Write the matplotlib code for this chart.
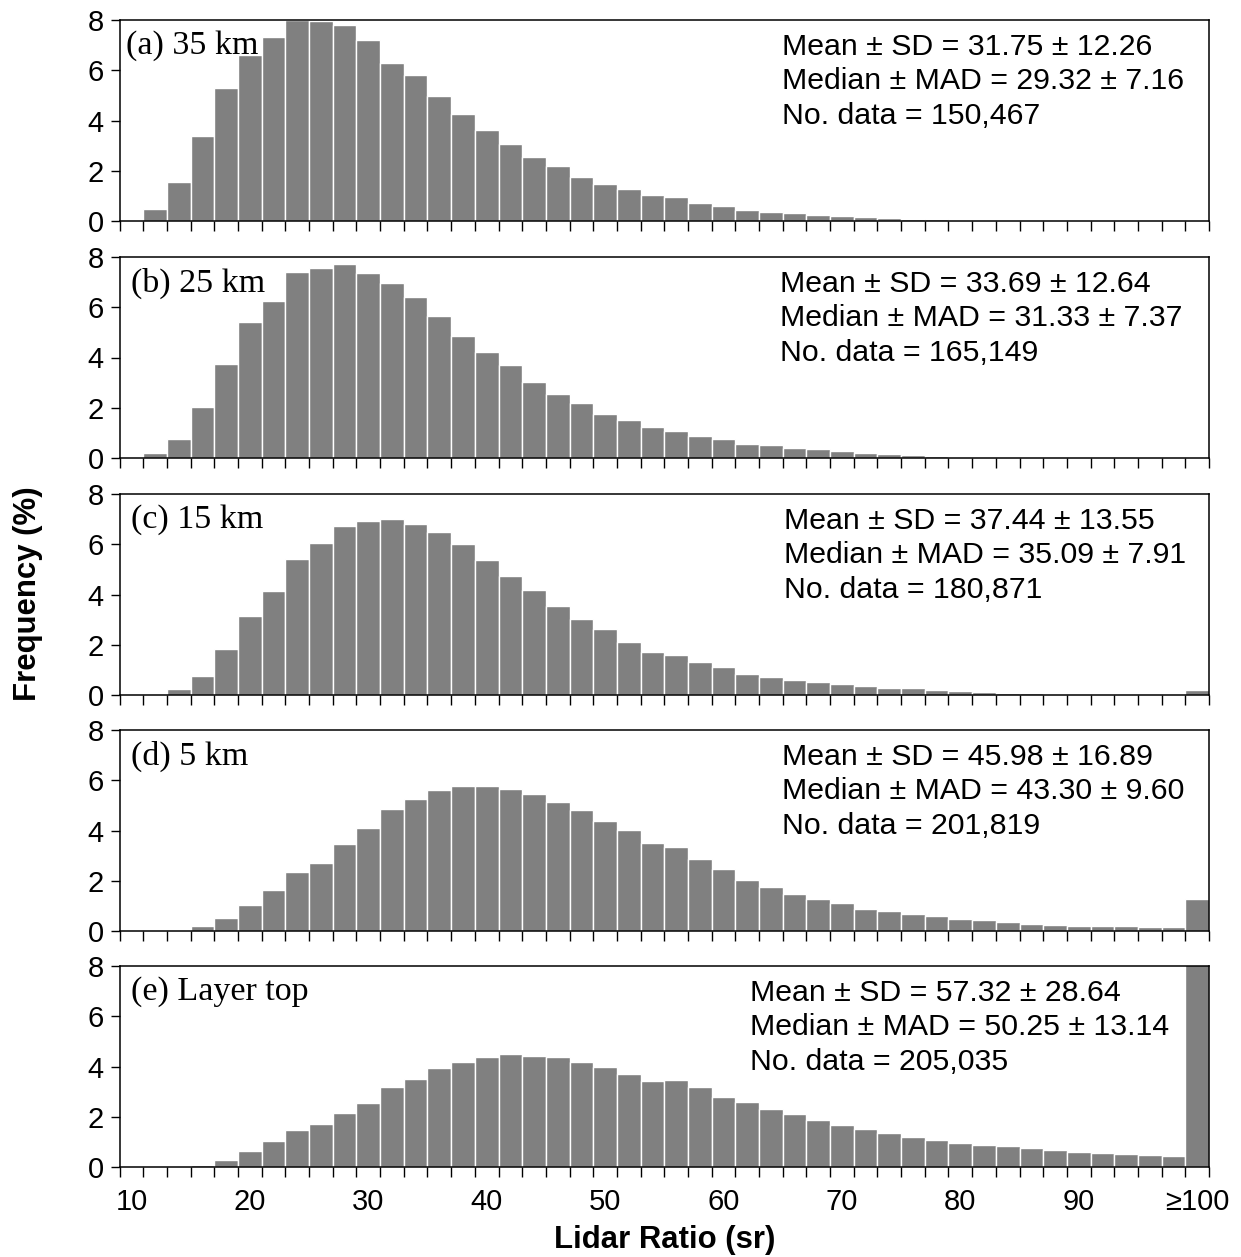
"""Lidar ratio frequency histograms at several altitudes."""

import numpy as np
import matplotlib
matplotlib.use("Agg")
import matplotlib.pyplot as plt

# bin labels: 10, 12, ..., 98 and the open-ended >=100 bin
bin_starts = list(range(10, 100, 2)) + [100]
label_values = [10, 20, 30, 40, 50, 60, 70, 80, 90]
label_texts = ["10", "20", "30", "40", "50", "60", "70", "80", "90", "\u2265100"]

freq_35km = [0.05, 0.48, 1.55, 3.40, 5.30, 6.60, 7.32, 8.00, 7.95, 7.80,
             7.20, 6.30, 5.83, 4.97, 4.27, 3.64, 3.05, 2.55, 2.19, 1.76,
             1.48, 1.29, 1.03, 0.95, 0.73, 0.60, 0.45, 0.37, 0.31, 0.25,
             0.20, 0.15, 0.11, 0.08, 0.06, 0.04, 0.02, 0.01, 0.0, 0.0,
             0.0, 0.0, 0.0, 0.0, 0.0, 0.0]
freq_25km = [0.0, 0.19, 0.76, 2.03, 3.76, 5.41, 6.23, 7.42, 7.56, 7.73,
             7.38, 6.95, 6.42, 5.66, 4.85, 4.21, 3.71, 3.04, 2.55, 2.18,
             1.75, 1.50, 1.24, 1.08, 0.86, 0.76, 0.56, 0.50, 0.41, 0.35,
             0.29, 0.20, 0.16, 0.12, 0.08, 0.05, 0.03, 0.02, 0.01, 0.01,
             0.01, 0.01, 0.01, 0.01, 0.01, 0.05]
freq_15km = [0.0, 0.0, 0.22, 0.75, 1.83, 3.13, 4.13, 5.42, 6.03, 6.74,
             6.94, 6.99, 6.81, 6.49, 6.01, 5.39, 4.73, 4.19, 3.56, 3.01,
             2.61, 2.12, 1.71, 1.59, 1.30, 1.11, 0.83, 0.72, 0.60, 0.52,
             0.42, 0.37, 0.26, 0.26, 0.20, 0.16, 0.12, 0.09, 0.08, 0.04,
             0.03, 0.02, 0.01, 0.01, 0.01, 0.19]
freq_5km = [0.0, 0.0, 0.0, 0.20, 0.53, 1.03, 1.62, 2.33, 2.71, 3.46,
            4.10, 4.85, 5.25, 5.60, 5.77, 5.78, 5.66, 5.44, 5.13, 4.83,
            4.36, 4.01, 3.49, 3.34, 2.88, 2.45, 2.03, 1.74, 1.49, 1.27,
            1.11, 0.89, 0.78, 0.66, 0.58, 0.46, 0.44, 0.36, 0.29, 0.25,
            0.21, 0.20, 0.19, 0.15, 0.15, 1.29]
freq_top = [0.01, 0.01, 0.0, 0.08, 0.28, 0.65, 1.02, 1.47, 1.73, 2.14,
            2.55, 3.17, 3.49, 3.96, 4.16, 4.36, 4.50, 4.40, 4.37, 4.16,
            3.97, 3.69, 3.41, 3.45, 3.17, 2.80, 2.59, 2.32, 2.10, 1.87,
            1.67, 1.53, 1.35, 1.20, 1.06, 0.97, 0.86, 0.85, 0.74, 0.69,
            0.58, 0.54, 0.52, 0.48, 0.42, 9.50]

panel_titles = ["(a) 35 km", "(b) 25 km", "(c) 15 km", "(d) 5 km", "(e) Layer top"]
stats_lines = [
    ["Mean \u00b1 SD = 31.75 \u00b1 12.26", "Median \u00b1 MAD = 29.32 \u00b1 7.16", "No. data = 150,467"],
    ["Mean \u00b1 SD = 33.69 \u00b1 12.64", "Median \u00b1 MAD = 31.33 \u00b1 7.37", "No. data = 165,149"],
    ["Mean \u00b1 SD = 37.44 \u00b1 13.55", "Median \u00b1 MAD = 35.09 \u00b1 7.91", "No. data = 180,871"],
    ["Mean \u00b1 SD = 45.98 \u00b1 16.89", "Median \u00b1 MAD = 43.30 \u00b1 9.60", "No. data = 201,819"],
    ["Mean \u00b1 SD = 57.32 \u00b1 28.64", "Median \u00b1 MAD = 50.25 \u00b1 13.14", "No. data = 205,035"],
]
panel_data = [freq_35km, freq_25km, freq_15km, freq_5km, freq_top]

# layout in pixels (figure is 1241 x 1257 at dpi 100)
W, H = 1241, 1257
ax_left, ax_right = 119.6, 1209
ax_tops = [20, 257, 494, 730, 966]
ax_height = 201
stats_x = [782, 780, 784, 782, 750]
title_x = [126, 131, 131, 131, 131]

plt.rcParams['font.family'] = ['Liberation Sans', 'DejaVu Sans']

fig = plt.figure(figsize=(W / 100, H / 100), dpi=100)

n_bins = len(bin_starts)
x = np.arange(n_bins)
label_pos = [bin_starts.index(v) for v in label_values] + [n_bins - 1]

for i, (values, title, lines) in enumerate(zip(panel_data, panel_titles, stats_lines)):
    top = ax_tops[i]
    ax = fig.add_axes([ax_left / W, 1 - (top + ax_height) / H,
                       (ax_right - ax_left) / W, ax_height / H])
    ax.bar(x, values, width=1.0, color='#808080', edgecolor='white', linewidth=1.0)
    ax.set_xlim(-0.5, n_bins - 0.5)
    ax.set_ylim(0, 8)
    ax.set_yticks([0, 2, 4, 6, 8])
    ax.tick_params(axis='y', direction='out', length=6.5, width=1, labelsize=21, pad=5)

    # ticks at bin edges, labels at bin centres
    ax.set_xticks(np.arange(-0.5, n_bins, 1.0))
    ax.set_xticklabels([])
    ax.tick_params(axis='x', which='major', direction='out', length=7, width=1)
    if i == len(panel_data) - 1:
        ax.set_xticks(label_pos, minor=True)
        ax.set_xticklabels(label_texts, minor=True)
        ax.tick_params(axis='x', which='minor', length=0, labelsize=21, pad=15)

    for sp in ax.spines.values():
        sp.set_linewidth(1.1)

    ax.text((title_x[i] - ax_left) / (ax_right - ax_left), 1 - 26 / ax_height, title,
            transform=ax.transAxes, family='Liberation Serif', fontsize=24.5,
            ha='left', va='center')
    for j, line in enumerate(lines):
        ax.text((stats_x[i] - ax_left) / (ax_right - ax_left),
                1 - (27 + 34.3 * j) / ax_height, line,
                transform=ax.transAxes, fontsize=21.8, ha='left', va='center')

fig.text(28 / W, 1 - 594 / H, "Frequency (%)", rotation=90, fontsize=22.4,
         fontweight='bold', ha='center', va='center')
fig.text(665 / W, 1 - 1240 / H, "Lidar Ratio (sr)", fontsize=22.4,
         fontweight='bold', ha='center', va='center')

fig.savefig("out.png", dpi=100)
